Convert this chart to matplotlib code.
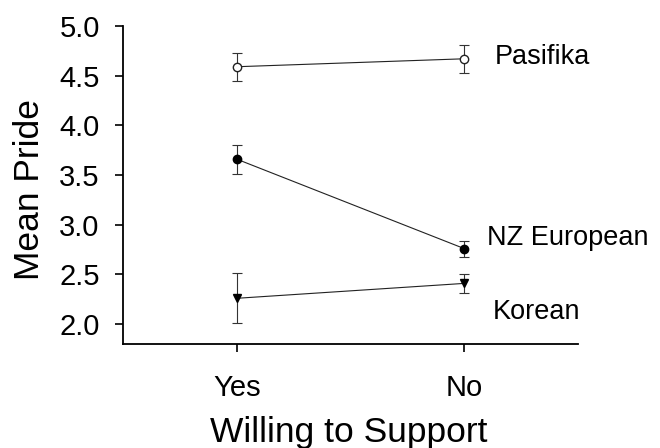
import matplotlib.pyplot as plt

plt.rcParams['font.family'] = ['Liberation Sans', 'DejaVu Sans']

# Mean pride by willingness to support, with standard errors
conditions = ['Yes', 'No']
groups = ['Pasifika', 'NZ European', 'Korean']
pasifika_mean = [4.59, 4.67]
pasifika_err = [0.14, 0.14]
nz_mean = [3.66, 2.76]
nz_err = [0.145, 0.08]
korean_mean = [2.26, 2.41]
korean_err = [0.25, 0.095]

fig = plt.figure(figsize=(6.6, 4.48), dpi=100)
ax = fig.add_axes([0.1864, 0.2321, 0.6894, 0.7099])

x = [1, 2]
line_kw = dict(color='#222222', linewidth=0.8, ecolor='#333333',
               elinewidth=0.8, capsize=3.5, capthick=0.8, markersize=6)

ax.errorbar(x, pasifika_mean, yerr=pasifika_err, marker='o',
            markerfacecolor='white', markeredgecolor='#222222', **line_kw)
ax.errorbar(x, nz_mean, yerr=nz_err, marker='o',
            markerfacecolor='black', markeredgecolor='black', **line_kw)
ax.errorbar(x, korean_mean, yerr=korean_err, marker='v',
            markerfacecolor='black', markeredgecolor='black', **line_kw)

# group labels to the right of the "No" points
ax.text(2.136, 4.617, groups[0], fontsize=19.5, ha='left', va='baseline')
ax.text(2.10, 2.798, groups[1], fontsize=19.5, ha='left', va='baseline')
ax.text(2.123, 2.05, groups[2], fontsize=19.5, ha='left', va='baseline')

ax.set_xlim(0.5, 2.5)
ax.set_ylim(1.8, 5.0)
ax.set_xticks(x)
ax.set_xticklabels(conditions)
ax.set_yticks([2.0, 2.5, 3.0, 3.5, 4.0, 4.5, 5.0])
ax.set_yticklabels(['2.0', '2.5', '3.0', '3.5', '4.0', '4.5', '5.0'])

for side in ['top', 'right']:
    ax.spines[side].set_visible(False)
for side in ['left', 'bottom']:
    ax.spines[side].set_linewidth(1.3)
ax.tick_params(axis='both', direction='out', length=5.8, width=1.2,
               labelsize=21, colors='black')
ax.tick_params(axis='y', pad=11)
ax.tick_params(axis='x', pad=16)

fig.text(349 / 660, 6 / 448, 'Willing to Support', fontsize=25.5,
         ha='center', va='baseline')
fig.text(13 / 660, 1 - 189 / 448, 'Mean Pride', fontsize=25.5, rotation=90,
         ha='left', va='center')

fig.savefig('out.png', dpi=100, facecolor='white')
